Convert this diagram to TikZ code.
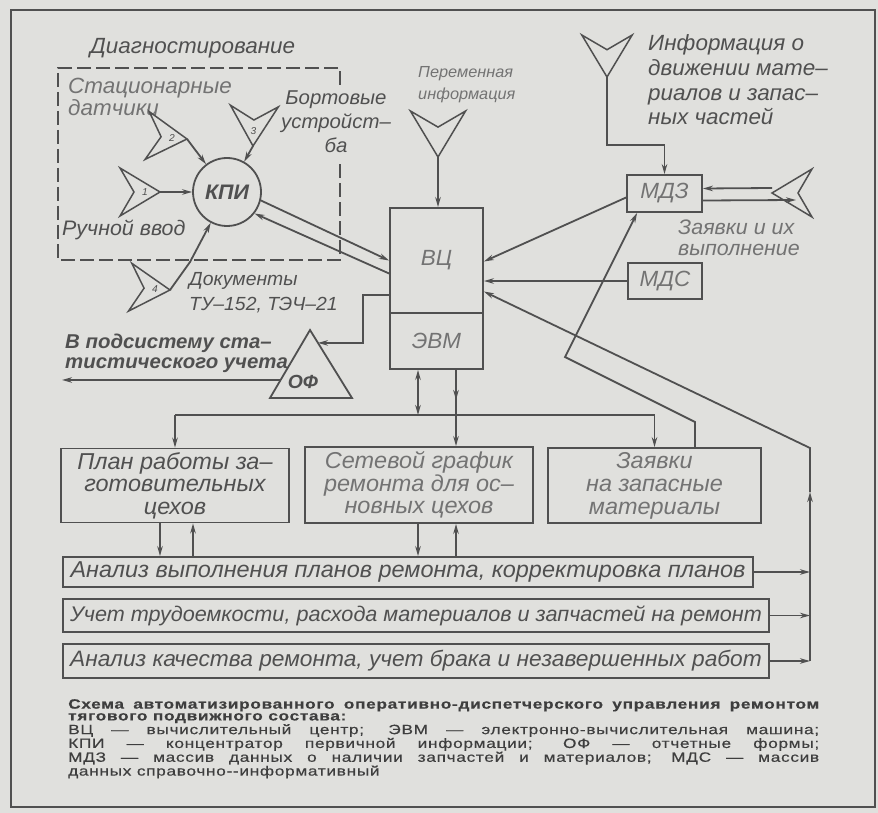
\documentclass[tikz,border=0pt]{standalone}
\usepackage{fontspec}
\setmainfont{Liberation Sans}
\newfontfamily\gostfont[FakeStretch=1.02]{Liberation Sans}
\newfontfamily\capfont[FakeStretch=1.28,LetterSpace=5,FakeBold=0.4]{Liberation Sans}
\usepackage{tikz}
\usetikzlibrary{positioning,arrows.meta,calc}
\definecolor{paper}{RGB}{224,224,221}
\definecolor{ink}{RGB}{80,80,80}
\definecolor{faded}{RGB}{115,115,115}
\definecolor{capink}{RGB}{62,62,62}
\newcommand{\gst}[2]{\gostfont\itshape\fontsize{#1}{#2}\selectfont}

\tikzset{
  antenna/.pic={
    \draw[ink, line width=1.5pt, line join=miter] (0,0) -- (-40,-24) -- (-26,0) -- (-40,24) -- cycle;
    \coordinate (-tip) at (0,0);
    \node[font=\gst{10}{10}, inner sep=0pt] at (-15,0) {#1};
  }
}

\begin{document}
\begin{tikzpicture}[x=1pt, y=-1pt,
  >={Stealth[length=10pt,width=5.5pt]},
  every node/.style={text=ink, font=\gst{22}{22.5}},
  line/.style={draw=ink, line width=1.8pt},
  box/.style={line, inner sep=0pt, align=center},
  lbl/.style={inner sep=0pt, align=left, anchor=west}]

  \fill[paper] (0,0) rectangle (878,813);
  \useasboundingbox (0,0) rectangle (878,813);
  \draw[ink, line width=2pt] (11,10) rectangle (875,807);

  \node[box, minimum width=93pt, minimum height=105pt, text=faded] (vc) at (436.5,260.5) {ВЦ};
  \node[box, minimum width=93pt, minimum height=56pt, text=faded, below=-1.8pt of vc] (evm) {ЭВМ};
  \node[box, minimum width=75pt, minimum height=37pt, text=faded] (mdz) at (664.5,193.5) {МДЗ};
  \node[box, minimum width=74pt, minimum height=36pt, text=faded] (mds) at (665,281) {МДС};
  \node[circle, line, minimum size=68pt, inner sep=0pt, font=\gst{21}{21}\bfseries] (kpi) at (227,192) {КПИ};

  \node[box, minimum width=228pt, minimum height=74pt, font=\gst{23}{22.5}] (plan) at (175,485.5) {План работы за–\\готовительных\\цехов};
  \node[box, minimum width=228pt, minimum height=76pt, text=faded, font=\gst{23}{22.5}] (graf) at (419,485) {Сетевой график\\ремонта для ос–\\новных цехов};
  \node[box, minimum width=213pt, minimum height=75pt, text=faded, font=\gst{23}{23}] (zayav) at (654.5,485.5) {Заявки\\на запасные\\материалы};

  \node[box, minimum width=690pt, minimum height=30pt, font=\gst{23}{23}] (anal) at (408,572) {Анализ выполнения планов ремонта, корректировка планов};
  \node[box, minimum width=706pt, minimum height=33pt, font=\gst{21.2}{23}] (uchet) at (416,615.5) {Учет трудоемкости, расхода материалов и запчастей на ремонт};
  \node[box, minimum width=706pt, minimum height=34pt, font=\gst{22.3}{23}] (kach) at (416,661) {Анализ качества ремонта, учет брака и незавершенных работ};

  \node[lbl] (diag) at (90,48) {Диагностирование};
  \node[lbl, text=faded] (stat) at (68,97) {Стационарные\\датчики};
  \node[lbl, font=\gst{21}{21}] (ruch) at (62,230) {Ручной ввод};
  \node[inner sep=0pt, align=center, font=\gst{20}{24}] (bort) at (336,122) {Бортовые\\устройст–\\ба};
  \node[lbl, font=\gst{19}{25}] (docs) at (189,292.5) {Документы\\ТУ–152, ТЭЧ–21};
  \node[lbl, font=\gst{20}{20}\bfseries] (podsys) at (65,353) {В подсистему ста–\\тистического учета};
  \node[lbl, text=faded, font=\gst{16}{22}] (perem) at (418,84.5) {Переменная\\информация};
  \node[lbl, font=\gst{22}{24.7}] (infmat) at (648,80) {Информация о\\движении мате–\\риалов и запас–\\ных частей};
  \node[lbl, text=faded, font=\gst{21}{21}] (zvyp) at (678,237.5) {Заявки и их\\выполнение};

  \draw[ink, line width=1.7pt, dash pattern=on 14pt off 5pt] (340,85) -- (340,68) -- (58,68) -- (58,260) -- (340,260) -- (340,163);

  \pic (a1) at (160,192) {antenna=1};
  \pic[rotate=-5] (a2) at (187,139) {antenna=2};
  \pic[rotate=-92] (a3) at (253,146) {antenna=3};
  \pic[rotate=-4] (a4) at (170,290) {antenna=4};
  \pic[rotate=-90, scale=1.15] (pv) at (438,157) {antenna={}};
  \pic[rotate=-90, scale=1.05] (ai) at (607,77) {antenna={}};
  \pic[rotate=180] (za) at (772,193) {antenna={}};

  \coordinate (a4k) at (190,262);
  \coordinate (aibend) at (664.5,145);
  \coordinate (zz1) at (695,422);
  \coordinate (zz2) at (565,357);
  \coordinate (rtop) at (810,448);
  \coordinate (rmid) at (810,492);
  \coordinate (rbot) at (810,661);
  \coordinate (bus) at (0,415);
  \coordinate (evmmid) at (0,400);
  \coordinate (xa) at (160,0);
  \coordinate (xb) at (193,0);
  \coordinate (xc) at (418,0);
  \coordinate (xd) at (456,0);
  \coordinate (xl) at (62,0);
  \coordinate (ofx) at (363,0);
  \coordinate (ofa) at (310,330);
  \coordinate (ofl) at (270,398);
  \coordinate (ofr) at (352,398);
  \coordinate (ofin) at ($(ofa)!0.19!(ofr)$);
  \coordinate (ofout) at ($(ofa)!0.735!(ofl)$);

  \draw[line, line join=miter] (ofa) -- (ofl) -- (ofr) -- cycle;
  \node[font=\gst{19}{19}\bfseries] (of) at (303,382) {ОФ};

  \draw[line, ->] (a1-tip) -- (kpi);
  \draw[line, ->] (a2-tip) -- (kpi);
  \draw[line, ->] (a3-tip) -- (kpi);
  \draw[line, ->] (a4-tip) -- (a4k) -- (kpi);
  \draw[line, ->] (kpi.-14) -- (vc.west);
  \draw[line, ->] ($(vc.west)+(0,13)$) -- (kpi.-38);

  \draw[line, ->] (pv-tip) -- (pv-tip |- vc.north);
  \draw[line, ->] (ai-tip) |- (aibend) -- (mdz.north);
  \draw[line, ->] ($(za-tip)+(0,-5)$) -- ($(mdz.east)+(0,-5)$);
  \draw[line, ->] ($(mdz.east)+(0,7)$) -- ($(za-tip)+(24,7)$);
  \draw[line, ->] ($(mdz.west)+(0,4)$) -- ($(vc.east)+(0,1)$);
  \draw[line, ->] (mds.west) -- (mds.west -| vc.east);
  \draw[line, ->] (zayav.north -| zz1) -- (zz1) -- (zz2) -- ($(mdz.south west)+(11,0)$);

  \draw[line, ->] (rbot) -- (rmid);
  \draw[line, ->] (rmid) -- (rtop) -- ($(vc.east)+(0,31)$);
  \draw[line, ->] (anal.east) -- (anal.east -| rtop);
  \draw[line, ->] (uchet.east) -- (uchet.east -| rtop);
  \draw[line, ->] (kach.east) -- (kach.east -| rtop);

  \draw[line, ->] ($(vc.west)+(0,34.5)$) -| (ofin -| ofx) -- (ofin);
  \draw[line, ->] (ofout) -- (ofout -| xl);

  \draw[line, ->] (plan.north |- bus) -- (zayav.north |- bus) -- (zayav.north);
  \draw[line, ->] (plan.north |- bus) -- (plan.north);
  \draw[line, <->] (evm.south -| xc) -- (bus -| xc);
  \draw[line, ->] (evm.south -| xd) -- (evmmid -| xd);
  \draw[line, ->] (evm.south -| xd) -- (graf.north -| xd);

  \draw[line, ->] (plan.south -| xa) -- (anal.north -| xa);
  \draw[line, ->] (anal.north -| xb) -- (plan.south -| xb);
  \draw[line, ->] (graf.south -| xc) -- (anal.north -| xc);
  \draw[line, ->] (anal.north -| xd) -- (graf.south -| xd);

  \node[anchor=north west, inner sep=0pt, align=left, text=capink, font=\capfont\fontsize{13.5}{11.8}\selectfont] (cap) at (68,699) {%
    {\bfseries\makebox[751pt][s]{Схема автоматизированного оперативно-диспетчерского управления ремонтом}}\\
    {\bfseries тягового подвижного состава:}\\
    \makebox[751pt][s]{ВЦ — вычислительный центр; ЭВМ — электронно-вычислительная машина;}\\
    \makebox[751pt][s]{КПИ — концентратор первичной информации; ОФ — отчетные формы;}\\
    \makebox[751pt][s]{МДЗ — массив данных о наличии запчастей и материалов; МДС — массив}\\
    данных справочно-{}-информативный};
\end{tikzpicture}
\end{document}
